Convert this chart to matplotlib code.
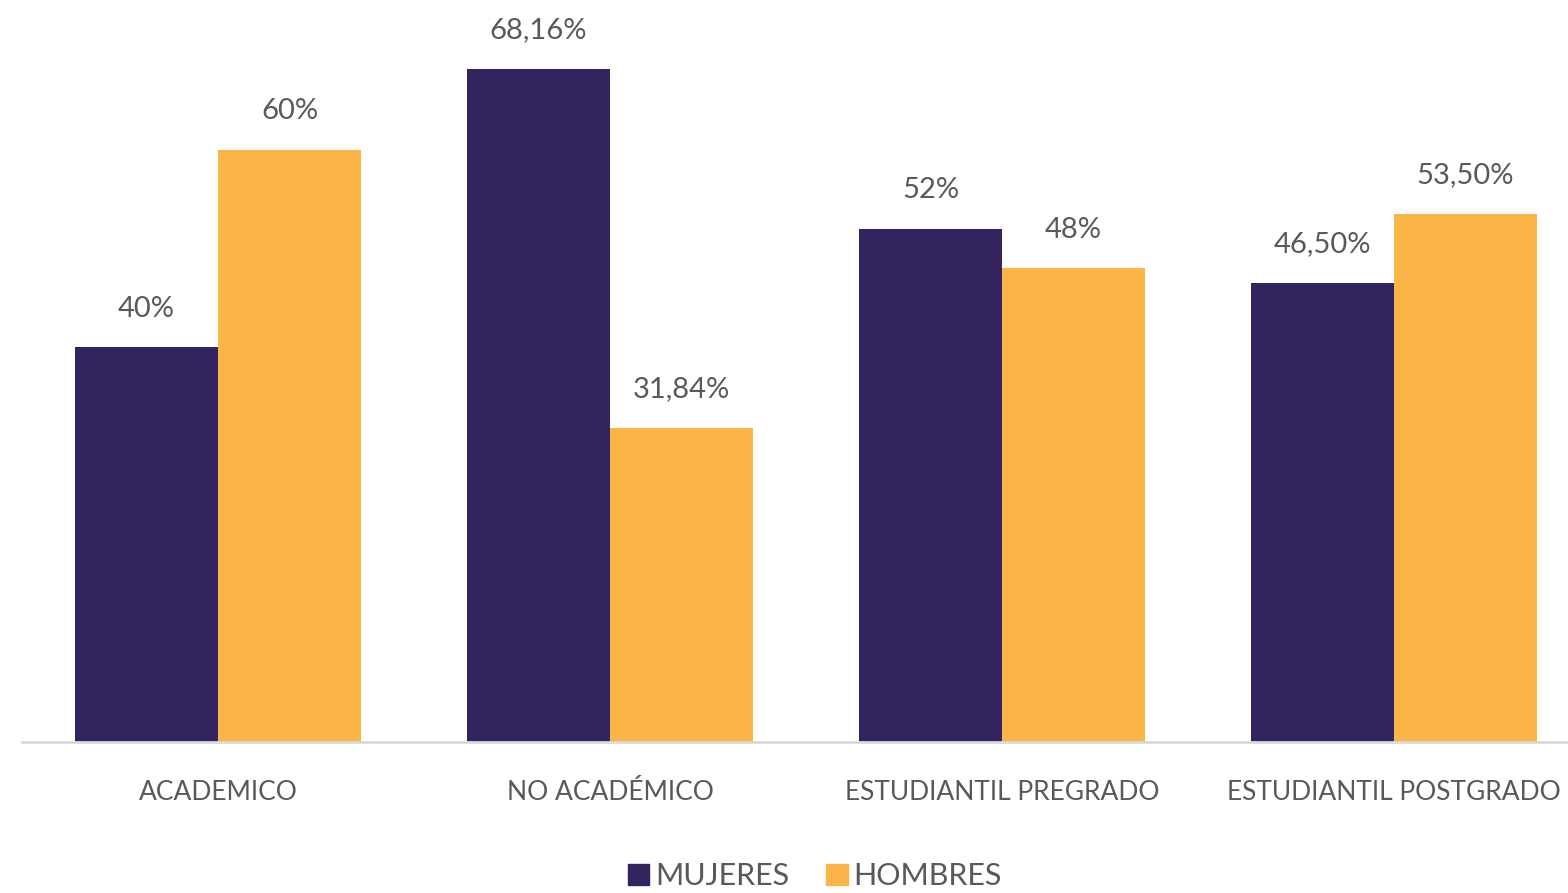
import numpy as np
import matplotlib.pyplot as plt
from matplotlib.patches import Patch

# Data
categorias = ["ACADEMICO", "NO ACADÉMICO", "ESTUDIANTIL PREGRADO", "ESTUDIANTIL POSTGRADO"]
mujeres = [40, 68.16, 52, 46.5]
hombres = [60, 31.84, 48, 53.5]
etiq_mujeres = ["40%", "68,16%", "52%", "46,50%"]
etiq_hombres = ["60%", "31,84%", "48%", "53,50%"]

morado = "#33235E"
naranja = "#FBB446"
gris = "#595959"

plt.rcParams["font.family"] = ["Lato", "DejaVu Sans"]

fig = plt.figure(figsize=(15.68, 8.93), dpi=100)
ax = fig.add_axes([22 / 1568, 151 / 893, 1546 / 1568, 742 / 893])

x = np.arange(len(categorias))
w = 0.365
b1 = ax.bar(x - w / 2, mujeres, w, color=morado)
b2 = ax.bar(x + w / 2, hombres, w, color=naranja)

# Data labels above bars
for bars, labels in [(b1, etiq_mujeres), (b2, etiq_hombres)]:
    for rect, lab in zip(bars, labels):
        ax.annotate(lab, (rect.get_x() + rect.get_width() / 2, rect.get_height()),
                    xytext=(0, 22), textcoords="offset points",
                    ha="center", va="baseline", fontsize=21, color=gris)

ax.set_xlim(-0.5, 3.444)
ax.set_ylim(0, 75.15)
ax.set_xticks(x)
ax.set_xticklabels(categorias, fontsize=19, color=gris)
ax.tick_params(axis="x", length=0, pad=27)
ax.set_yticks([])
for s in ["top", "right", "left"]:
    ax.spines[s].set_visible(False)
ax.spines["bottom"].set_color("#D9D9D9")
ax.spines["bottom"].set_linewidth(2)

handles = [Patch(color=morado, label="MUJERES"), Patch(color=naranja, label="HOMBRES")]
fig.legend(handles=handles, loc="center", bbox_to_anchor=(815 / 1568, 1 - 876 / 893),
           ncol=2, frameon=False, fontsize=22, labelcolor=gris,
           handlelength=0.7, handleheight=0.7, handletextpad=0.2, columnspacing=1.2)

plt.savefig("out.png", dpi=100)
plt.close()
